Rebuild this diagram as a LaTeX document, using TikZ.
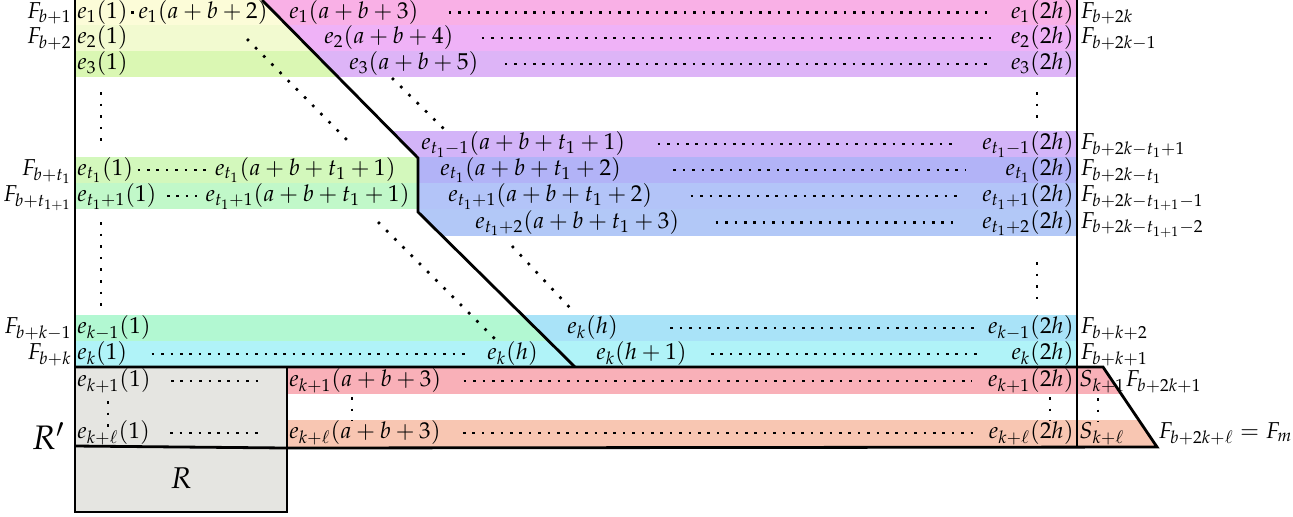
\documentclass[tikz,border=0pt]{standalone}
\usepackage{mathpazo}
\definecolor{pa}{HTML}{F9B0E6}
\definecolor{pb}{HTML}{EFB2F7}
\definecolor{pc}{HTML}{DDB4F7}
\definecolor{pd}{HTML}{D3B4F8}
\definecolor{pe}{HTML}{B2B3F7}
\definecolor{pf}{HTML}{B3C4F8}
\definecolor{pg}{HTML}{B2C8F7}
\definecolor{ph}{HTML}{A9E3F8}
\definecolor{pi}{HTML}{B0F3F8}
\definecolor{ga}{HTML}{FCFCD8}
\definecolor{gb}{HTML}{F2FAD0}
\definecolor{gc}{HTML}{DAF7B3}
\definecolor{gd}{HTML}{D3F8BC}
\definecolor{ge}{HTML}{C1F8C9}
\definecolor{gf}{HTML}{B2F8D2}
\definecolor{qa}{HTML}{F9B0B8}
\definecolor{qb}{HTML}{F8C6B2}
\definecolor{greybox}{HTML}{E5E5E1}

\begin{document}
\begin{tikzpicture}[x = 0.5pt, y = -0.5pt, font = \fontsize{11.5}{13}\selectfont,
  cell/.style = {inner sep = 0pt, text height = 8.5pt, text depth = 3pt},
  hdots/.style = {line width = 1.3pt, dash pattern = on 1.3pt off 3.4pt},
  vdots/.style = {line width = 1.3pt, dash pattern = on 1.3pt off 4.5pt},
  rim/.style = {line width = 1.4pt}]
\useasboundingbox (0,0) rectangle (1293,516);

% coloured bands
\begin{scope}
\clip (262,0) -- (1077,0) -- (1077,367) -- (575,367) -- (418,212) -- (418,158) -- cycle;
\foreach \ya/\yb/\c in {0/25/pa, 25/51/pb, 51/77/pc, 131/157/pd, 157/183/pe, 183/209/pf, 209/236/pg, 315/341/ph, 341/367/pi}
  \fill[\c] (75,\ya) rectangle (1077,\yb);
\end{scope}
\begin{scope}
\clip (75,0) -- (262,0) -- (418,158) -- (418,212) -- (575,367) -- (75,367) -- cycle;
\foreach \ya/\yb/\c in {0/25/ga, 25/51/gb, 51/77/gc, 157/183/gd, 183/209/ge, 315/341/gf, 341/367/pi}
  \fill[\c] (75,\ya) rectangle (1077,\yb);
\end{scope}
\fill[greybox] (75,367) rectangle (287,512);
\begin{scope}
\clip (287,367) -- (1103,367) -- (1157,447) -- (287,447) -- cycle;
\fill[qa] (287,368) rectangle (1160,394);
\fill[qb] (287,420) rectangle (1160,447);
\end{scope}

% outline
\draw[rim] (75,0) -- (75,512) -- (287,512) -- (287,367);
\draw[rim] (262,0) -- (418,158) -- (418,212) -- (575,367);
\draw[rim] (1077,0) -- (1077,447);
\draw[rim] (75,367) -- (1103,367) -- (1157,447) -- (287,448) -- (75,446);

% side labels
\foreach \y/\t [count=\i] in {12.5/{b+1}, 38/{b+2}, 170/{b+t_1}, 196/{b+t_{1+1}}, 328/{b+k-1}, 354/{b+k}}
  \node[cell, anchor = east] (fl\i) at (72,\y) {$F_{\t}$};
\foreach \y/\t [count=\i] in {12.5/{b+2k}, 38/{b+2k-1}, 144/{b+2k-t_1+1}, 170/{b+2k-t_1}, 196/{b+2k-t_{1+1}-1}, 222.5/{b+2k-t_{1+1}-2}, 328/{b+k+2}, 354/{b+k+1}}
  \node[cell, anchor = west] (fr\i) at (1080,\y) {$F_{\t}$};
\node[cell, anchor = west] (fr9) at (1125,381) {$F_{b+2k+1}$};
\node[cell, anchor = west] (fr10) at (1158,433) {$F_{b+2k+\ell} = F_m$};
\node[anchor = east, font = \fontsize{17}{19}\selectfont] (Rp) at (72,436) {$R'$};
\node[font = \fontsize{15}{17}\selectfont] (R) at (181,478) {$R$};

% rows 1 to 3
\node[cell, anchor = west] (a1) at (77,12.5) {$e_1(1)$};
\node[cell, anchor = east] (b1) at (268,12.5) {$e_1(a+b+2)$};
\node[cell, anchor = west] (c1) at (289,12.5) {$e_1(a+b+3)$};
\node[cell, anchor = east] (d1) at (1074,12.5) {$e_1(2h)$};
\draw[hdots, shorten <= 1.5pt, shorten >= 0.5pt] (a1) -- (b1);
\draw[hdots, shorten <= 15pt, shorten >= 10pt] (c1) -- (d1);
\node[cell, anchor = west] (a2) at (77,38) {$e_2(1)$};
\node[cell, anchor = west] (c2) at (324,38) {$e_2(a+b+4)$};
\node[cell, anchor = east] (d2) at (1074,38) {$e_2(2h)$};
\draw[hdots, shorten <= 14pt, shorten >= 10pt] (c2) -- (d2);
\node[cell, anchor = west] (a3) at (77,64) {$e_3(1)$};
\node[cell, anchor = west] (c3) at (349,64) {$e_3(a+b+5)$};
\node[cell, anchor = east] (d3) at (1074,64) {$e_3(2h)$};
\draw[hdots, shorten <= 13pt, shorten >= 10pt] (c3) -- (d3);

% rows t_1-1 to t_1+2
\node[cell, anchor = west] (c4) at (421,144) {$e_{t_1-1}(a+b+t_1+1)$};
\node[cell, anchor = east] (d4) at (1074,144) {$e_{t_1-1}(2h)$};
\draw[hdots, shorten <= 16pt, shorten >= 12pt] (c4) -- (d4);
\node[cell, anchor = west] (a5) at (77,170) {$e_{t_1}(1)$};
\node[cell, anchor = east] (b5) at (396,170) {$e_{t_1}(a+b+t_1+1)$};
\node[cell, anchor = west] (c5) at (440,170) {$e_{t_1}(a+b+t_1+2)$};
\node[cell, anchor = east] (d5) at (1074,170) {$e_{t_1}(2h)$};
\draw[hdots, shorten <= 2pt, shorten >= 1pt] (a5) -- (b5);
\draw[hdots, shorten <= 26pt, shorten >= 20pt] (c5) -- (d5);
\node[cell, anchor = west] (a6) at (77,196) {$e_{t_1+1}(1)$};
\node[cell, anchor = east] (b6) at (410,196) {$e_{t_1+1}(a+b+t_1+1)$};
\node[cell, anchor = west] (c6) at (448,196) {$e_{t_1+1}(a+b+t_1+2)$};
\node[cell, anchor = east] (d6) at (1074,196) {$e_{t_1+1}(2h)$};
\draw[hdots, shorten <= 5pt, shorten >= 4pt] (a6) -- (b6);
\draw[hdots, shorten <= 19pt, shorten >= 12pt] (c6) -- (d6);
\node[cell, anchor = west] (c7) at (475,222.5) {$e_{t_1+2}(a+b+t_1+3)$};
\node[cell, anchor = east] (d7) at (1074,222.5) {$e_{t_1+2}(2h)$};
\draw[hdots, shorten <= 18pt, shorten >= 12pt] (c7) -- (d7);

% rows k-1 and k
\node[cell, anchor = west] (a8) at (77,328) {$e_{k-1}(1)$};
\node[cell, anchor = west] (c8) at (567,328) {$e_k(h)$};
\node[cell, anchor = east] (d8) at (1074,328) {$e_{k-1}(2h)$};
\draw[hdots, shorten <= 26pt, shorten >= 6pt] (c8) -- (d8);
\node[cell, anchor = west] (a9) at (77,354) {$e_k(1)$};
\node[cell, anchor = west] (b9) at (487,354) {$e_k(h)$};
\node[cell, anchor = west] (c9) at (596,354) {$e_k(h+1)$};
\node[cell, anchor = east] (d9) at (1074,354) {$e_k(2h)$};
\draw[hdots, shorten <= 12pt, shorten >= 8pt] (a9) -- (b9);
\draw[hdots, shorten <= 12pt, shorten >= 14pt] (c9) -- (d9);

% rows k+1 and k+l
\node[cell, anchor = west] (a10) at (77,381) {$e_{k+1}(1)$};
\node[cell, anchor = west] (c10) at (289,381) {$e_{k+1}(a+b+3)$};
\node[cell, anchor = east] (d10) at (1074,381) {$e_{k+1}(2h)$};
\node[cell, anchor = west] (s10) at (1079,381) {$S_{k+1}$};
\draw[hdots, shorten <= 10pt, shorten >= 15pt] (a10) -- (c10);
\draw[hdots, shorten <= 11pt, shorten >= 8pt] (c10) -- (d10);
\node[cell, anchor = west] (a11) at (77,433) {$e_{k+\ell}(1)$};
\node[cell, anchor = west] (c11) at (289,433) {$e_{k+\ell}(a+b+3)$};
\node[cell, anchor = east] (d11) at (1074,433) {$e_{k+\ell}(2h)$};
\node[cell, anchor = west] (s11) at (1079,433) {$S_{k+\ell}$};
\draw[hdots, shorten <= 10pt, shorten >= 15pt] (a11) -- (c11);
\draw[hdots, shorten <= 11pt, shorten >= 8pt] (c11) -- (d11);

% dots in between
\foreach \xa/\ya/\xb/\yb [count=\i] in {101/92/101/141, 1037/92/1037/118, 101/222/101/308, 1037/262/1037/300,
  108/401/108/428, 352/397/352/421, 1050/397/1050/421, 1098/398/1098/422,
  247/39/348/141, 392/78/444/129, 378/222/497/341, 512/246/571/309}
{
  \coordinate (u\i) at (\xa,\ya);
  \coordinate (v\i) at (\xb,\yb);
  \draw[vdots] (u\i) -- (v\i);
}
\end{tikzpicture}
\end{document}
